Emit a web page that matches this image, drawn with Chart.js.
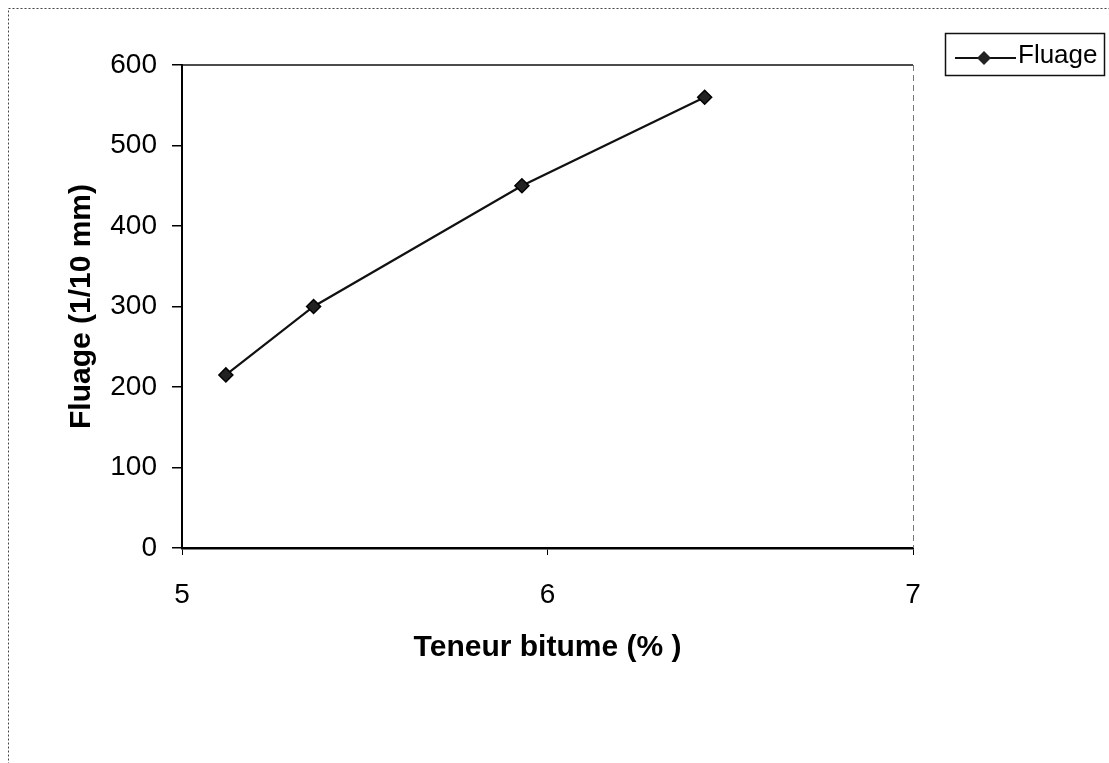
<!DOCTYPE html>
<html>
<head>
<meta charset="utf-8">
<script src="https://cdn.jsdelivr.net/npm/chart.js@4/dist/chart.umd.min.js"></script>
<style>
  html, body { margin: 0; padding: 0; background: #fff; }
  #wrap { position: relative; width: 1109px; height: 763px; }
</style>
</head>
<body>
<div id="wrap"><canvas id="myChart" width="1109" height="763"></canvas></div>
<script>
// teneur en bitume (%) et fluage mesure (1/10 mm)
var teneurBitume = [5.12, 5.36, 5.93, 6.43];
var fluage = [215, 300, 450, 560];
var xTicks = [5, 6, 7];
var yTicks = [0, 100, 200, 300, 400, 500, 600];

var FONT = "'Liberation Sans', Arial, sans-serif";

// cadre pointille, bordure haute du trace et legende encadree
var framePlugin = {
  id: 'frame',
  afterDraw: function(chart) {
    var ctx = chart.ctx;
    var a = chart.chartArea;
    ctx.save();

    // cadre exterieur
    ctx.strokeStyle = '#444';
    ctx.lineWidth = 1;
    ctx.setLineDash([2, 2]);
    ctx.strokeRect(8.5, 8.5, 1109, 763);

    // bord droit du trace (tirets gris)
    ctx.strokeStyle = '#777';
    ctx.setLineDash([6, 4]);
    ctx.beginPath();
    ctx.moveTo(a.right + 0.5, a.top);
    ctx.lineTo(a.right + 0.5, a.bottom);
    ctx.stroke();

    // bord haut du trace
    ctx.setLineDash([]);
    ctx.strokeStyle = '#111';
    ctx.lineWidth = 1.5;
    ctx.beginPath();
    ctx.moveTo(a.left, a.top);
    ctx.lineTo(a.right, a.top);
    ctx.stroke();

    // legende
    var ds = chart.data.datasets[0];
    ctx.lineWidth = 1.5;
    ctx.strokeStyle = '#111';
    ctx.strokeRect(945.5, 33.5, 159, 42);
    ctx.strokeStyle = ds.borderColor;
    ctx.lineWidth = 2;
    ctx.beginPath();
    ctx.moveTo(955, 58);
    ctx.lineTo(1016, 58);
    ctx.stroke();
    ctx.fillStyle = ds.pointBackgroundColor;
    ctx.beginPath();
    ctx.moveTo(984, 51);
    ctx.lineTo(991, 58);
    ctx.lineTo(984, 65);
    ctx.lineTo(977, 58);
    ctx.closePath();
    ctx.fill();
    ctx.fillStyle = '#000';
    ctx.font = '26px ' + FONT;
    ctx.textBaseline = 'middle';
    ctx.textAlign = 'left';
    ctx.fillText(ds.label, 1018, 56);
    ctx.restore();
  }
};

var points = teneurBitume.map(function(x, i) { return { x: x, y: fluage[i] }; });

var ctx = document.getElementById('myChart').getContext('2d');
var myChart = new Chart(ctx, {
  type: 'line',
  data: {
    datasets: [{
      label: 'Fluage',
      data: points,
      borderColor: '#111',
      borderWidth: 2.2,
      pointStyle: 'rectRot',
      pointRadius: 7,
      pointBackgroundColor: '#222',
      pointBorderColor: '#000',
      pointBorderWidth: 1.5,
      tension: 0
    }]
  },
  plugins: [framePlugin],
  options: {
    responsive: false,
    animation: false,
    layout: { padding: { top: 65, right: 196, left: 0, bottom: 0 } },
    plugins: {
      legend: { display: false },
      tooltip: { enabled: false }
    },
    scales: {
      x: {
        type: 'linear',
        min: xTicks[0],
        max: xTicks[xTicks.length - 1],
        afterBuildTicks: function(scale) {
          scale.ticks = xTicks.map(function(v) { return { value: v }; });
        },
        afterFit: function(scale) { scale.height = 215; },
        ticks: {
          color: '#000',
          font: { family: FONT, size: 28 },
          padding: 23,
          maxRotation: 0
        },
        grid: { drawOnChartArea: false, drawTicks: true, tickLength: 7, color: '#000', lineWidth: 1 },
        border: { color: '#000', width: 2.5 },
        title: {
          display: true,
          text: 'Teneur bitume (% )',
          color: '#000',
          font: { family: FONT, size: 30, weight: 'bold' },
          padding: { top: 0, bottom: 97 }
        }
      },
      y: {
        min: yTicks[0],
        max: yTicks[yTicks.length - 1],
        afterBuildTicks: function(scale) {
          scale.ticks = yTicks.map(function(v) { return { value: v }; });
        },
        afterFit: function(scale) { scale.width = 182; },
        ticks: {
          color: '#000',
          font: { family: FONT, size: 28 },
          padding: 15
        },
        grid: { drawOnChartArea: false, drawTicks: true, tickLength: 10, color: '#000', lineWidth: 1.5 },
        border: { color: '#000', width: 2 },
        title: {
          display: true,
          text: 'Fluage (1/10 mm)',
          color: '#000',
          font: { family: FONT, size: 30, weight: 'bold' },
          padding: { top: 64, bottom: 0 }
        }
      }
    }
  }
});
</script>
</body>
</html>
